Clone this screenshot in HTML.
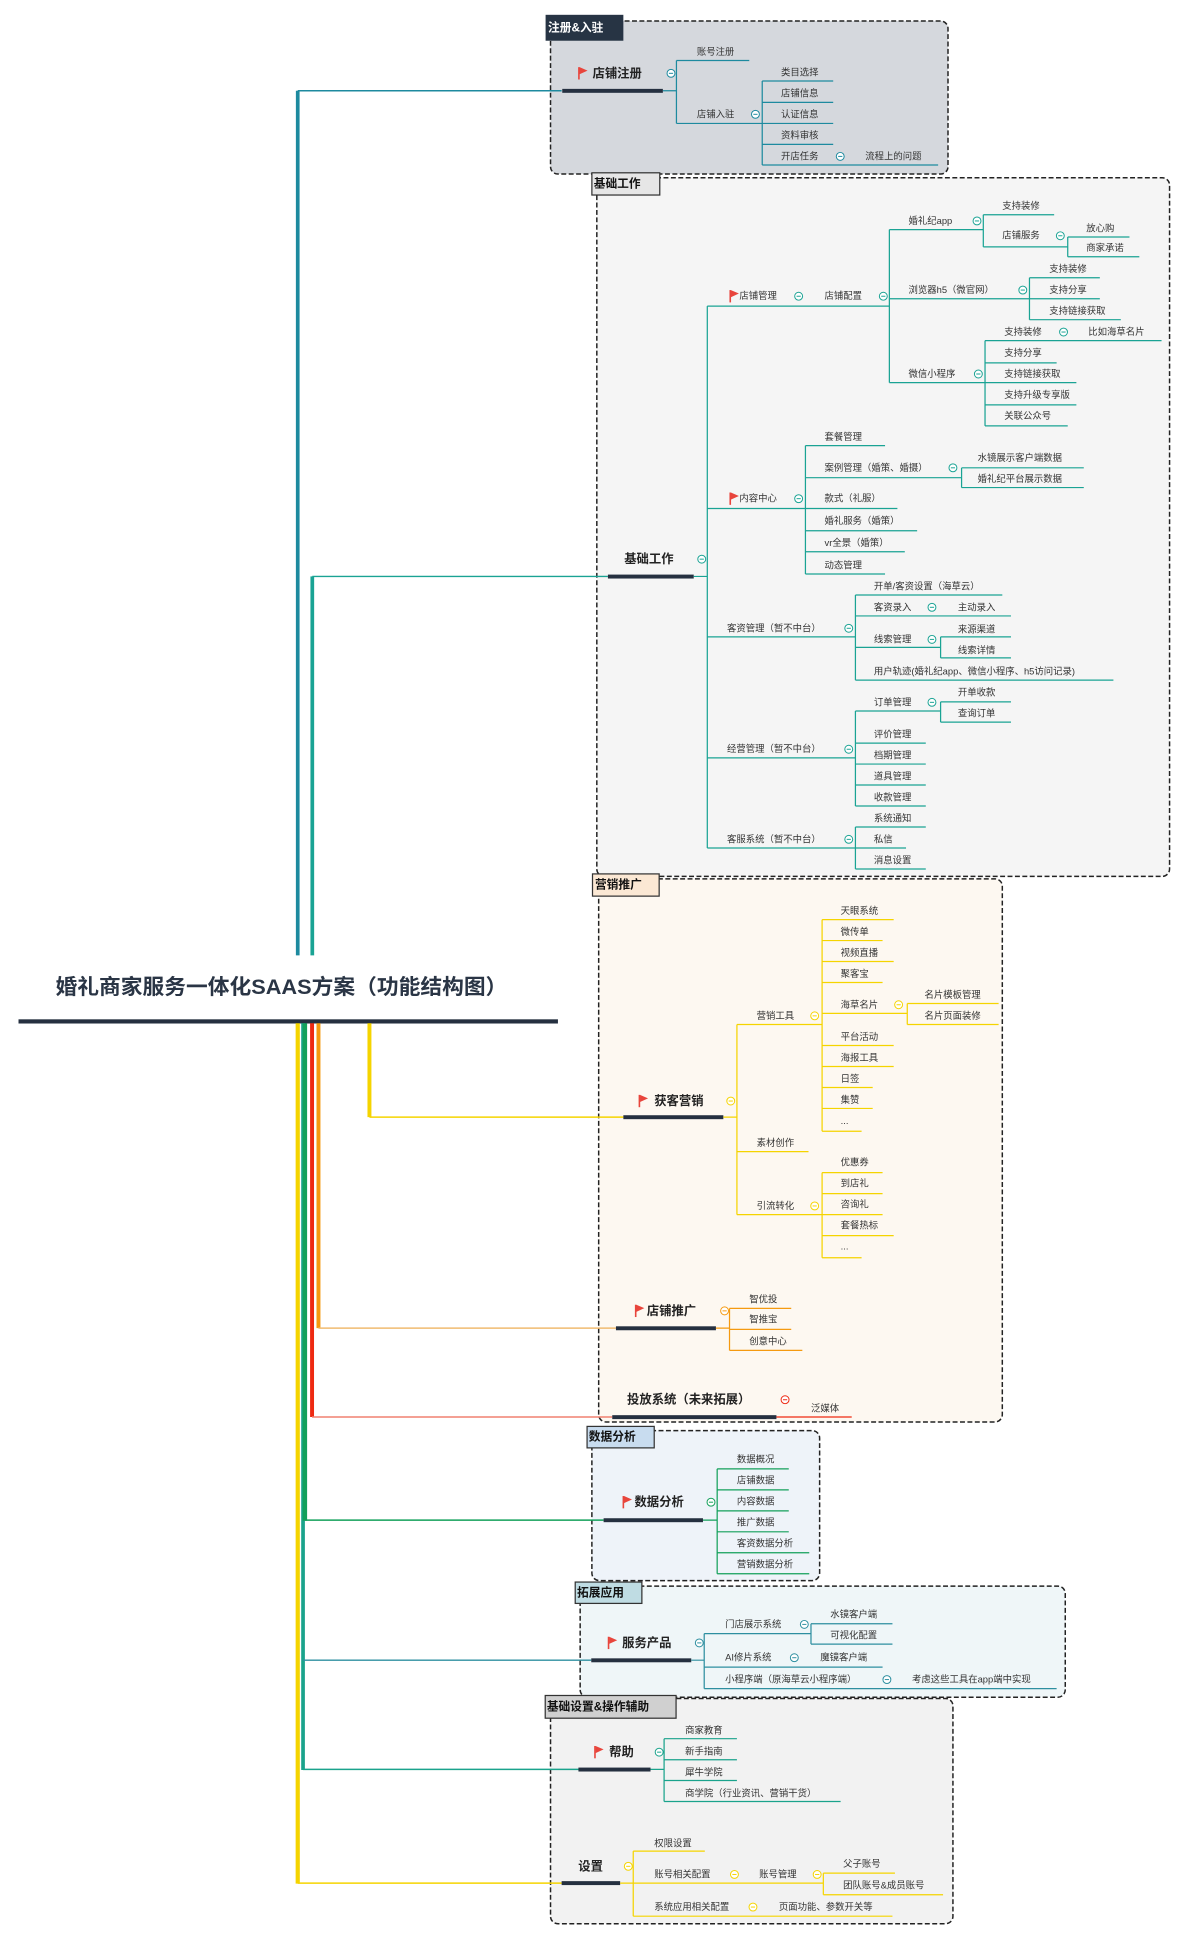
<!DOCTYPE html>
<html><head><meta charset="utf-8"><style>
html,body{margin:0;padding:0;background:#fff;}
svg{display:block;}
text{font-family:"Liberation Sans","Noto Sans CJK SC",sans-serif;fill:#333;dominant-baseline:central;}
.t{font-size:7.6px;}
.h{font-size:10px;font-weight:bold;fill:#222;}
.tag{font-size:9.5px;font-weight:bold;fill:#111;}
</style></head><body>
<svg width="1185" height="1941" viewBox="0 0 960 1572.5" preserveAspectRatio="none" xmlns="http://www.w3.org/2000/svg">
<defs>
<g id="m"><circle r="3.2" fill="#fff" stroke="currentColor" stroke-width="0.8"/><line x1="-1.7" x2="1.7" y1="0" y2="0" stroke="currentColor" stroke-width="0.8"/></g>
<g id="f"><path d="M0,-5 V5" stroke="#e8453c" stroke-width="1.3"/><path d="M0.5,-5 L7,-2.2 L0.5,0.8Z" fill="#e8453c"/></g>
</defs>

<!-- boxes -->
<rect x="446" y="17" width="322" height="124" rx="6" fill="#d5d8dd" stroke="#222" stroke-width="1.2" stroke-dasharray="4,2"/>
<rect x="483.5" y="144" width="464" height="566" rx="6" fill="#f5f5f5" stroke="#222" stroke-width="1.2" stroke-dasharray="4,2"/>
<rect x="485" y="712" width="327" height="440" rx="6" fill="#fdf8f1" stroke="#222" stroke-width="1.2" stroke-dasharray="4,2"/>
<rect x="479.5" y="1159" width="184.5" height="121.5" rx="6" fill="#eef3f9" stroke="#222" stroke-width="1.2" stroke-dasharray="4,2"/>
<rect x="470" y="1285" width="393" height="90" rx="6" fill="#eff6f8" stroke="#222" stroke-width="1.2" stroke-dasharray="4,2"/>
<rect x="446" y="1376" width="326" height="182.5" rx="6" fill="#f2f2f2" stroke="#222" stroke-width="1.2" stroke-dasharray="4,2"/>

<!-- tags -->
<rect x="442" y="12" width="63" height="21" fill="#273444"/>
<text x="444" y="22.5" class="tag" style="fill:#fff">注册&amp;入驻</text>
<rect x="479.5" y="140" width="55" height="18" fill="#e6e6e6" stroke="#333" stroke-width="1"/>
<text x="481" y="149" class="tag">基础工作</text>
<rect x="480" y="708" width="54" height="18" fill="#fbe8d4" stroke="#333" stroke-width="1"/>
<text x="482" y="717" class="tag">营销推广</text>
<rect x="475.6" y="1155.6" width="54.4" height="17.4" fill="#c8dcef" stroke="#333" stroke-width="1"/>
<text x="477" y="1164.3" class="tag">数据分析</text>
<rect x="466" y="1281.7" width="54" height="17.3" fill="#bfdce3" stroke="#333" stroke-width="1"/>
<text x="467.5" y="1290.4" class="tag">拓展应用</text>
<rect x="441.7" y="1373.6" width="106" height="18.4" fill="#d0d0d0" stroke="#333" stroke-width="1"/>
<text x="443" y="1382.8" class="tag">基础设置&amp;操作辅助</text>

<!-- title -->
<text x="45" y="800" textLength="366" lengthAdjust="spacingAndGlyphs" style="font-size:17px;font-weight:bold;fill:#2a3545">婚礼商家服务一体化SAAS方案（功能结构图）</text>
<rect x="15" y="825.8" width="437" height="3.4" fill="#253040"/>

<!-- main spine lines -->
<g fill="none" stroke-linecap="butt">
<path d="M241.2,774 V73.5" stroke="#1d8a9f" stroke-width="3"/>
<path d="M241.2,73.5 H455" stroke="#1d8a9f" stroke-width="1.2"/>
<path d="M253,774 V467" stroke="#1aa394" stroke-width="3"/>
<path d="M253,467 H492.5" stroke="#1aa394" stroke-width="1.2"/>
<path d="M241.2,829 V1526" stroke="#f5d400" stroke-width="3.4"/>
<path d="M241.2,1525.6 H455" stroke="#f5d400" stroke-width="1.2"/>
<path d="M245.5,829 V1434" stroke="#1aa38c" stroke-width="3"/>
<path d="M245.5,1433.5 H469" stroke="#1aa38c" stroke-width="1.2"/>
<path d="M245.5,1345 H479" stroke="#2e8fa0" stroke-width="1.2"/>
<path d="M247,829 V1232" stroke="#13a05a" stroke-width="3.6"/>
<path d="M247,1231.5 H489" stroke="#13a05a" stroke-width="1.2"/>
<path d="M252.8,829 V1148" stroke="#ee2a12" stroke-width="3.2"/>
<path d="M252.8,1148 H496" stroke="#f08070" stroke-width="1.2"/>
<path d="M258,829 V1076" stroke="#f59a10" stroke-width="3.2"/>
<path d="M258,1076 H499" stroke="#f0bb70" stroke-width="1.2"/>
<path d="M299.3,829 V905" stroke="#f5d400" stroke-width="3.2"/>
<path d="M299.3,905 H505" stroke="#f5d400" stroke-width="1.2"/>
</g>

<!-- ===== 注册&入驻 ===== -->
<g fill="none" stroke="#1d8a9f" stroke-width="1">
<path d="M537,73.5 H548 M548,49 V100 M548,49 H607 M548,100 H617.5 M617.5,65.6 V133.7 M617.5,65.6 H675 M617.5,82.9 H675 M617.5,100 H675 M617.5,117 H675 M617.5,133.7 H760"/>
</g>
<rect x="455.5" y="72" width="81.5" height="3.2" fill="#253040"/>
<use href="#f" x="469" y="59.4"/>
<text x="480" y="59.4" class="h">店铺注册</text>
<use href="#m" x="543.6" y="59.4" color="#1d8a9f"/>
<text x="564.6" y="42" class="t">账号注册</text>
<text x="564.6" y="92.6" class="t">店铺入驻</text>
<use href="#m" x="612" y="92.6" color="#1d8a9f"/>
<text x="632.7" y="58.6" class="t">类目选择</text>
<text x="632.7" y="75.6" class="t">店铺信息</text>
<text x="632.7" y="92.6" class="t">认证信息</text>
<text x="632.7" y="109.6" class="t">资料审核</text>
<text x="632.7" y="126.7" class="t">开店任务</text>
<use href="#m" x="680.7" y="126.7" color="#1d8a9f"/>
<text x="701" y="126.7" class="t">流程上的问题</text>

<!-- ===== 基础工作 ===== -->
<rect x="492.5" y="465.5" width="69.5" height="3.2" fill="#253040"/>
<text x="505.7" y="453" class="h">基础工作</text>
<use href="#m" x="568.5" y="453" color="#1aa394"/>
<g fill="none" stroke="#1aa394" stroke-width="1">
<path d="M562,467 H573 M573,248 V687"/>
<path d="M573,248 H720.5 M720.5,186 V310 M720.5,186 H796.6 M720.5,242 H834 M720.5,310 H798"/>
<path d="M796.6,174 V200 M796.6,174 H854 M796.6,200 H865 M865,192 V208 M865,192 H915 M865,208 H923"/>
<path d="M834,225 V259 M834,225 H891 M834,242 H891 M834,259 H908"/>
<path d="M798,276 V345 M798,276 H941 M798,294 H856 M798,310 H872 M798,328 H872 M798,345 H865"/>
<path d="M573,412 H652.5 M652.5,361 V465 M652.5,361 H717 M652.5,387 H779 M652.5,412 H727 M652.5,430 H743 M652.5,447 H733 M652.5,465 H717"/>
<path d="M779,379 V395 M779,379 H878 M779,395 H878"/>
<path d="M573,516 H693 M693,482 V551 M693,482 H812 M693,499 H819 M693,524.5 H762 M693,551 H902"/>
<path d="M762,516 V533 M762,516 H819 M762,533 H819"/>
<path d="M573,614 H693 M693,576 V653 M693,576 H762 M693,602 H750 M693,619 H750 M693,636 H750 M693,653 H750"/>
<path d="M762,568.6 V585 M762,568.6 H819 M762,585 H819"/>
<path d="M573,687 H734 M693,670 V704 M693,670 H750 M693,704 H750"/>
</g>
<use href="#f" x="591.6" y="240"/>
<text x="599" y="240" class="t">店铺管理</text>
<use href="#m" x="647" y="240" color="#1aa394"/>
<text x="668" y="240" class="t">店铺配置</text>
<use href="#m" x="715.6" y="240" color="#1aa394"/>
<text x="736" y="179" class="t">婚礼纪app</text>
<use href="#m" x="791.5" y="179" color="#1aa394"/>
<text x="812" y="167" class="t">支持装修</text>
<text x="812" y="191" class="t">店铺服务</text>
<use href="#m" x="859" y="191" color="#1aa394"/>
<text x="880" y="185" class="t">放心购</text>
<text x="880" y="201" class="t">商家承诺</text>
<text x="736" y="235" class="t">浏览器h5（微官网）</text>
<use href="#m" x="828.6" y="235" color="#1aa394"/>
<text x="850" y="218" class="t">支持装修</text>
<text x="850" y="235" class="t">支持分享</text>
<text x="850" y="252" class="t">支持链接获取</text>
<text x="736" y="303" class="t">微信小程序</text>
<use href="#m" x="792.6" y="303" color="#1aa394"/>
<text x="813.6" y="269" class="t">支持装修</text>
<use href="#m" x="861.6" y="269" color="#1aa394"/>
<text x="881.6" y="269" class="t">比如海草名片</text>
<text x="813.6" y="286" class="t">支持分享</text>
<text x="813.6" y="303" class="t">支持链接获取</text>
<text x="813.6" y="320" class="t">支持升级专享版</text>
<text x="813.6" y="337" class="t">关联公众号</text>

<use href="#f" x="591.6" y="404"/>
<text x="599" y="404" class="t">内容中心</text>
<use href="#m" x="647" y="404" color="#1aa394"/>
<text x="668" y="354" class="t">套餐管理</text>
<text x="668" y="379" class="t">案例管理（婚策、婚摄）</text>
<use href="#m" x="772" y="379" color="#1aa394"/>
<text x="792" y="371" class="t">水镜展示客户端数据</text>
<text x="792" y="388" class="t">婚礼纪平台展示数据</text>
<text x="668" y="404" class="t">款式（礼服）</text>
<text x="668" y="422" class="t">婚礼服务（婚策）</text>
<text x="668" y="440" class="t">vr全景（婚策）</text>
<text x="668" y="458" class="t">动态管理</text>

<text x="589" y="509" class="t">客资管理（暂不中台）</text>
<use href="#m" x="687.6" y="509" color="#1aa394"/>
<text x="708" y="475" class="t">开单/客资设置（海草云）</text>
<text x="708" y="492" class="t">客资录入</text>
<use href="#m" x="755" y="492" color="#1aa394"/>
<text x="776" y="492" class="t">主动录入</text>
<text x="708" y="518" class="t">线索管理</text>
<use href="#m" x="755" y="518" color="#1aa394"/>
<text x="776" y="510" class="t">来源渠道</text>
<text x="776" y="527" class="t">线索详情</text>
<text x="708" y="544" class="t">用户轨迹(婚礼纪app、微信小程序、h5访问记录)</text>

<text x="589" y="607" class="t">经营管理（暂不中台）</text>
<use href="#m" x="687.6" y="607" color="#1aa394"/>
<text x="708" y="569" class="t">订单管理</text>
<use href="#m" x="755" y="569" color="#1aa394"/>
<text x="776" y="561" class="t">开单收款</text>
<text x="776" y="578" class="t">查询订单</text>
<text x="708" y="595" class="t">评价管理</text>
<text x="708" y="612" class="t">档期管理</text>
<text x="708" y="629" class="t">道具管理</text>
<text x="708" y="646" class="t">收款管理</text>

<text x="589" y="680" class="t">客服系统（暂不中台）</text>
<use href="#m" x="687.6" y="680" color="#1aa394"/>
<text x="708" y="663" class="t">系统通知</text>
<text x="708" y="680" class="t">私信</text>
<text x="708" y="697" class="t">消息设置</text>

<!-- ===== 营销推广 ===== -->
<rect x="505" y="903.5" width="81" height="3.2" fill="#253040"/>
<use href="#f" x="518" y="892"/>
<text x="530" y="892" class="h">获客营销</text>
<use href="#m" x="592" y="892" color="#f5d400"/>
<g fill="none" stroke="#f5d400" stroke-width="1">
<path d="M586,905 H597 M597,830 V984 M597,830 H666 M597,933 H655 M597,984 H666"/>
<path d="M666,745 V916.5 M666,745 H724 M666,762 H715 M666,779 H724 M666,796 H715 M666,821 H735 M666,847 H724 M666,864 H724 M666,881 H707 M666,898 H707 M666,916.5 H698"/>
<path d="M735,813 V830 M735,813 H809 M735,830 H809"/>
<path d="M666,950 V1019 M666,950 H715 M666,967 H715 M666,984 H715 M666,1001 H724 M666,1019 H698"/>
</g>
<text x="613" y="823" class="t">营销工具</text>
<use href="#m" x="660" y="823" color="#f5d400"/>
<text x="681" y="738" class="t">天眼系统</text>
<text x="681" y="755" class="t">微传单</text>
<text x="681" y="772" class="t">视频直播</text>
<text x="681" y="789" class="t">聚客宝</text>
<text x="681" y="814" class="t">海草名片</text>
<use href="#m" x="728" y="814" color="#f5d400"/>
<text x="749" y="806" class="t">名片模板管理</text>
<text x="749" y="823" class="t">名片页面装修</text>
<text x="681" y="840" class="t">平台活动</text>
<text x="681" y="857" class="t">海报工具</text>
<text x="681" y="874" class="t">日签</text>
<text x="681" y="891" class="t">集赞</text>
<text x="681" y="908" class="t">...</text>
<text x="613" y="926" class="t">素材创作</text>
<text x="613" y="977" class="t">引流转化</text>
<use href="#m" x="660" y="977" color="#f5d400"/>
<text x="681" y="942" class="t">优惠券</text>
<text x="681" y="959" class="t">到店礼</text>
<text x="681" y="976" class="t">咨询礼</text>
<text x="681" y="993" class="t">套餐热标</text>
<text x="681" y="1010" class="t">...</text>

<rect x="499" y="1074.5" width="81" height="3.2" fill="#253040"/>
<use href="#f" x="515" y="1062"/>
<text x="524" y="1062" class="h">店铺推广</text>
<use href="#m" x="587" y="1062" color="#f59a10"/>
<g fill="none" stroke="#f59a10" stroke-width="1">
<path d="M580,1076 H591 M591,1060 V1094 M591,1060 H641 M591,1077 H641 M591,1094 H650"/>
</g>
<text x="607" y="1053" class="t">智优投</text>
<text x="607" y="1069" class="t">智推宝</text>
<text x="607" y="1087" class="t">创意中心</text>

<rect x="496" y="1146.5" width="133" height="3.2" fill="#253040"/>
<text x="508" y="1134" class="h">投放系统（未来拓展）</text>
<use href="#m" x="636" y="1134" color="#ee2a12"/>
<path d="M629,1148 H690" stroke="#ee2a12" stroke-width="1" fill="none"/>
<text x="657" y="1141" class="t">泛媒体</text>

<!-- ===== 数据分析 ===== -->
<rect x="489" y="1230" width="80.5" height="3.2" fill="#253040"/>
<use href="#f" x="505" y="1217"/>
<text x="514" y="1217" class="h">数据分析</text>
<use href="#m" x="576" y="1217" color="#13a05a"/>
<g fill="none" stroke="#13a05a" stroke-width="1">
<path d="M569.5,1231.5 H581 M581,1190 V1275 M581,1190 H639 M581,1207 H639 M581,1224 H639 M581,1241 H639 M581,1258 H655.6 M581,1275 H655.6"/>
</g>
<text x="597" y="1182.6" class="t">数据概况</text>
<text x="597" y="1199.6" class="t">店铺数据</text>
<text x="597" y="1216.6" class="t">内容数据</text>
<text x="597" y="1233.6" class="t">推广数据</text>
<text x="597" y="1250.6" class="t">客资数据分析</text>
<text x="597" y="1267.6" class="t">营销数据分析</text>

<!-- ===== 拓展应用 ===== -->
<rect x="479" y="1343.5" width="81" height="3.2" fill="#253040"/>
<use href="#f" x="493" y="1331"/>
<text x="504" y="1331" class="h">服务产品</text>
<use href="#m" x="566.5" y="1331" color="#2e8fa0"/>
<g fill="none" stroke="#2e8fa0" stroke-width="1">
<path d="M560,1345 H570.5 M570.5,1323.5 V1368 M570.5,1323.5 H657 M657,1315.5 V1332 M657,1315.5 H723 M657,1332 H723 M570.5,1350.6 H715 M570.5,1368 H856"/>
</g>
<text x="587.5" y="1316" class="t">门店展示系统</text>
<use href="#m" x="651.6" y="1316" color="#2e8fa0"/>
<text x="672.6" y="1308" class="t">水镜客户端</text>
<text x="672.6" y="1325" class="t">可视化配置</text>
<text x="587.5" y="1343" class="t">AI修片系统</text>
<use href="#m" x="643.5" y="1343" color="#2e8fa0"/>
<text x="664.5" y="1343" class="t">魔镜客户端</text>
<text x="587.5" y="1360.7" class="t">小程序端（原海草云小程序端）</text>
<use href="#m" x="718.5" y="1360.7" color="#2e8fa0"/>
<text x="738.8" y="1360.7" class="t">考虑这些工具在app端中实现</text>

<!-- ===== 基础设置 ===== -->
<rect x="468.6" y="1432" width="58.4" height="3.2" fill="#253040"/>
<use href="#f" x="482" y="1419.5"/>
<text x="493.5" y="1419.5" class="h">帮助</text>
<use href="#m" x="534" y="1419.5" color="#1aa38c"/>
<g fill="none" stroke="#1aa38c" stroke-width="1">
<path d="M527,1433.5 H538 M538,1408.6 V1459.5 M538,1408.6 H597 M538,1425.7 H597 M538,1442.5 H597 M538,1459.5 H681"/>
</g>
<text x="555" y="1402" class="t">商家教育</text>
<text x="555" y="1419" class="t">新手指南</text>
<text x="555" y="1436" class="t">犀牛学院</text>
<text x="555" y="1453" class="t">商学院（行业资讯、营销干货）</text>

<rect x="455" y="1524" width="47.4" height="3.2" fill="#253040"/>
<text x="468.5" y="1512" class="h">设置</text>
<use href="#m" x="509" y="1512" color="#f5d400"/>
<g fill="none" stroke="#f5d400" stroke-width="1">
<path d="M502.4,1525.6 H667 M513,1499.7 V1552.4 M513,1499.7 H571 M513,1552.4 H723 M667,1517.5 V1535 M667,1517.5 H725 M667,1535 H764"/>
</g>
<text x="530" y="1493.6" class="t">权限设置</text>
<text x="530" y="1518.6" class="t">账号相关配置</text>
<use href="#m" x="595" y="1518.6" color="#f5d400"/>
<text x="615" y="1518.6" class="t">账号管理</text>
<use href="#m" x="662" y="1518.6" color="#f5d400"/>
<text x="683" y="1510" class="t">父子账号</text>
<text x="683" y="1527.6" class="t">团队账号&amp;成员账号</text>
<text x="530" y="1545" class="t">系统应用相关配置</text>
<use href="#m" x="610" y="1545" color="#f5d400"/>
<text x="631" y="1545" class="t">页面功能、参数开关等</text>
</svg>
</body></html>
